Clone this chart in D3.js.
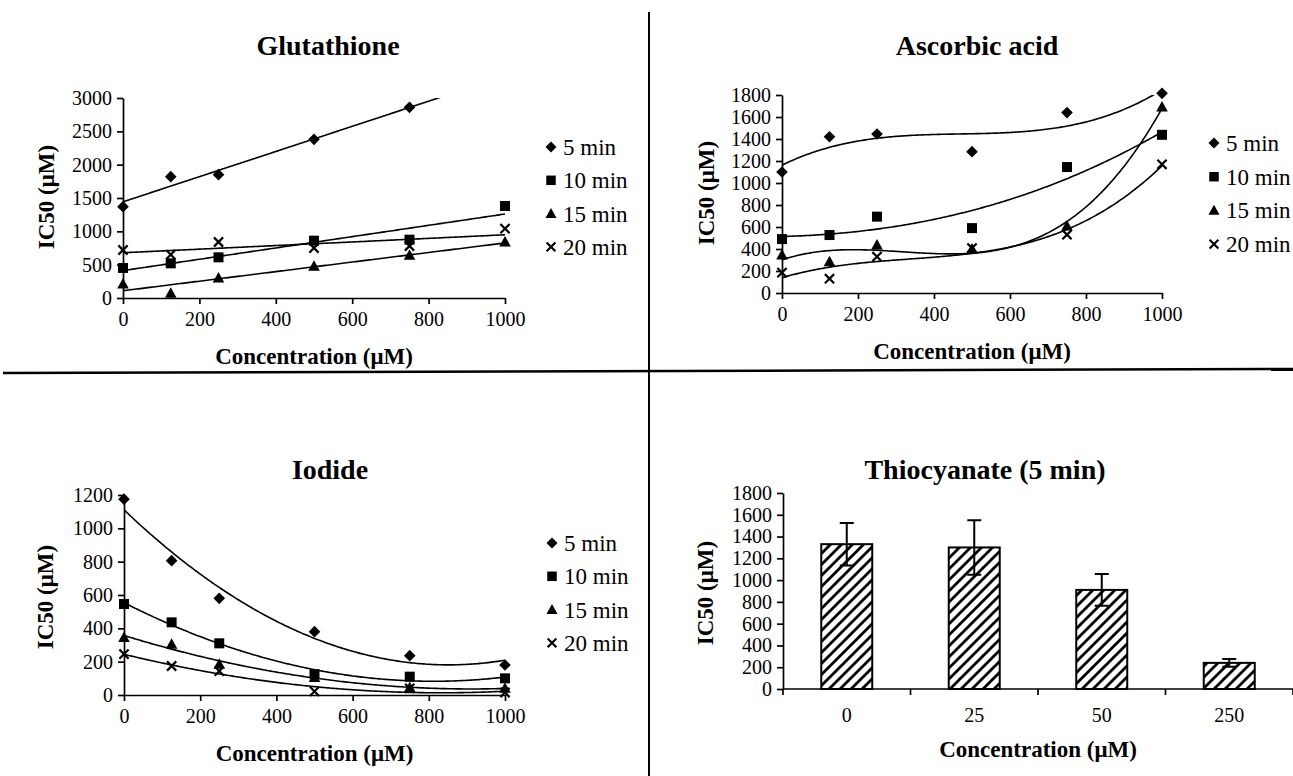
<!DOCTYPE html>
<html><head><meta charset="utf-8">
<script src="https://cdn.jsdelivr.net/npm/d3@7"></script>
<style>
html,body{margin:0;padding:0;background:#fff;}
svg{display:block;}
text{font-family:"Liberation Serif","Times New Roman",serif;fill:#000;}
</style></head><body>
<svg id="chart" width="1293" height="776"></svg>
<script>
// ---------- DATA ----------
const concentrations = [0, 125, 250, 500, 750, 1000];
const seriesNames = ["5 min", "10 min", "15 min", "20 min"];
const xTicks = [0, 200, 400, 600, 800, 1000];

const glutathione5  = [1370, 1820, 1850, 2380, 2860, null];
const glutathione10 = [450, 520, 610, 860, 875, 1380];
const glutathione15 = [210, 70, 300, 475, 640, 840];
const glutathione20 = [720, 650, 840, 750, 780, 1040];
const glutathioneYTicks = [0, 500, 1000, 1500, 2000, 2500, 3000];

const ascorbic5  = [1100, 1420, 1445, 1285, 1640, 1815];
const ascorbic10 = [490, 527, 694, 590, 1145, 1438];
const ascorbic15 = [345, 285, 436, 400, 610, 1690];
const ascorbic20 = [185, 130, 330, 409, 530, 1170];
const ascorbicYTicks = [0, 200, 400, 600, 800, 1000, 1200, 1400, 1600, 1800];

const iodide5  = [1175, 806, 580, 380, 236, 180];
const iodide10 = [546, 436, 310, 125, 110, 100];
const iodide15 = [345, 305, 185, 105, 45, 40];
const iodide20 = [245, 174, 143, 22, 40, 15];
const iodideYTicks = [0, 200, 400, 600, 800, 1000, 1200];

const thiocyanateCategories = ["0", "25", "50", "250"];
const thiocyanateMeans  = [1330, 1300, 910, 240];
const thiocyanateErrors = [195, 250, 146, 35];
const thiocyanateYTicks = [0, 200, 400, 600, 800, 1000, 1200, 1400, 1600, 1800];

const titles = ["Glutathione", "Ascorbic acid", "Iodide", "Thiocyanate (5 min)"];
const xAxisTitle = "Concentration (\u03BCM)";
const yAxisTitle = "IC50 (\u03BCM)";

// ---------- HELPERS ----------
const svg = d3.select("#chart");
const FONT = '"Liberation Serif","Times New Roman",serif';

function polyfit(xs, ys, deg) {
  const pts = xs.map((x, i) => [x / 1000, ys[i]]).filter(p => p[1] != null);
  const n = deg + 1;
  const A = Array.from({length: n}, () => new Array(n + 1).fill(0));
  for (const [x, y] of pts) {
    for (let r = 0; r < n; r++) {
      for (let c = 0; c < n; c++) A[r][c] += Math.pow(x, r + c);
      A[r][n] += y * Math.pow(x, r);
    }
  }
  for (let i = 0; i < n; i++) {
    let p = i;
    for (let k = i + 1; k < n; k++) if (Math.abs(A[k][i]) > Math.abs(A[p][i])) p = k;
    [A[i], A[p]] = [A[p], A[i]];
    for (let k = i + 1; k < n; k++) {
      const f = A[k][i] / A[i][i];
      for (let c = i; c <= n; c++) A[k][c] -= f * A[i][c];
    }
  }
  const coef = new Array(n).fill(0);
  for (let i = n - 1; i >= 0; i--) {
    let s = A[i][n];
    for (let c = i + 1; c < n; c++) s -= A[i][c] * coef[c];
    coef[i] = s / A[i][i];
  }
  return x => coef.reduce((s, c, i) => s + c * Math.pow(x / 1000, i), 0);
}

function drawMarker(g, type, cx, cy, s) {
  const k = s || 1;
  if (type === 0) {
    const r = 5.8 * k;
    g.append("path").attr("d", `M${cx},${cy - r}L${cx + r},${cy}L${cx},${cy + r}L${cx - r},${cy}Z`).attr("fill", "#000");
  } else if (type === 1) {
    const h = 5 * k;
    g.append("rect").attr("x", cx - h).attr("y", cy - h).attr("width", 2 * h).attr("height", 2 * h).attr("fill", "#000");
  } else if (type === 2) {
    const w = 5.8 * k;
    g.append("path").attr("d", `M${cx},${cy - 6 * k}L${cx + w},${cy + 4.5 * k}L${cx - w},${cy + 4.5 * k}Z`).attr("fill", "#000");
  } else {
    const h = 4.6 * k;
    g.append("path").attr("d", `M${cx - h},${cy - h}L${cx + h},${cy + h}M${cx - h},${cy + h}L${cx + h},${cy - h}`)
      .attr("stroke", "#000").attr("stroke-width", 2.2).attr("fill", "none");
  }
}

function styleAxis(g, fontSize) {
  g.select(".domain").attr("stroke", "#000").attr("stroke-width", 1.7);
  g.selectAll(".tick line").attr("stroke", "#000").attr("stroke-width", 1.7);
  g.selectAll(".tick text").attr("font-family", FONT).attr("font-size", fontSize).attr("fill", "#000");
}

function addText(x, y, txt, size, bold, anchor, rotate) {
  const t = svg.append("text")
    .attr("text-anchor", anchor || "middle")
    .attr("dy", "0.35em")
    .attr("font-size", size)
    .attr("font-weight", bold ? "bold" : "normal")
    .text(txt);
  if (rotate) t.attr("transform", `translate(${x},${y}) rotate(-90)`);
  else t.attr("x", x).attr("y", y);
  return t;
}

let clipId = 0;
function scatterPanel(cfg) {
  const x = d3.scaleLinear().domain([0, 1000]).range([cfg.x0, cfg.x1]);
  const y = d3.scaleLinear().domain([0, cfg.yMax]).range([cfg.yBottom, cfg.yTop]);

  const id = "clip" + (clipId++);
  svg.append("clipPath").attr("id", id).append("rect")
    .attr("x", cfg.x0).attr("y", cfg.yTop).attr("width", cfg.x1 - cfg.x0 + 2).attr("height", cfg.yBottom - cfg.yTop);

  const gx = svg.append("g").attr("transform", `translate(0,${cfg.yBottom})`)
    .call(d3.axisBottom(x).tickValues(xTicks).tickSize(6).tickSizeOuter(0).tickPadding(8).tickFormat(d3.format("d")));
  styleAxis(gx, 20);
  const gy = svg.append("g").attr("transform", `translate(${cfg.x0},0)`)
    .call(d3.axisLeft(y).tickValues(cfg.yTicks).tickSize(6).tickSizeOuter(0).tickPadding(5).tickFormat(d3.format("d")));
  styleAxis(gy, 20);

  const lines = svg.append("g").attr("clip-path", `url(#${id})`);
  const marks = svg.append("g");
  cfg.series.forEach((vals, si) => {
    const f = polyfit(concentrations, vals, cfg.degree);
    const samples = d3.range(0, 1000.1, 5);
    lines.append("path")
      .attr("d", d3.line().x(d => x(d)).y(d => y(f(d)))(samples))
      .attr("fill", "none").attr("stroke", "#000").attr("stroke-width", 1.6);
    vals.forEach((v, i) => {
      if (v == null) return;
      drawMarker(marks, si, x(concentrations[i]), y(v));
    });
  });

  // legend
  seriesNames.forEach((nm, i) => {
    const ly = cfg.legY + i * cfg.legStep;
    drawMarker(svg, i, cfg.legX, ly, 0.95);
    addText(cfg.legX + 12, ly, nm, 23, false, "start");
  });

  addText(cfg.titleX, cfg.titleY, cfg.title, 28, true);
  addText((cfg.x0 + cfg.x1) / 2, cfg.yBottom + 58, xAxisTitle, 23, true);
  addText(cfg.yLabX, cfg.yLabY, yAxisTitle, 23, true, "middle", true);
}

// ---------- PANELS ----------
scatterPanel({
  title: titles[0], titleX: 328, titleY: 45,
  x0: 123, x1: 505, yTop: 98, yBottom: 298, yMax: 3000, yTicks: glutathioneYTicks,
  series: [glutathione5, glutathione10, glutathione15, glutathione20], degree: 1,
  legX: 551, legY: 147, legStep: 33.3, yLabX: 46, yLabY: 197
});

scatterPanel({
  title: titles[1], titleX: 977, titleY: 45,
  x0: 782, x1: 1162, yTop: 95, yBottom: 293, yMax: 1800, yTicks: ascorbicYTicks,
  series: [ascorbic5, ascorbic10, ascorbic15, ascorbic20], degree: 3,
  legX: 1214, legY: 143, legStep: 33.7, yLabX: 706, yLabY: 193
});

scatterPanel({
  title: titles[2], titleX: 330, titleY: 469,
  x0: 124, x1: 505, yTop: 495, yBottom: 695, yMax: 1200, yTicks: iodideYTicks,
  series: [iodide5, iodide10, iodide15, iodide20], degree: 2,
  legX: 552, legY: 543, legStep: 33.3, yLabX: 45, yLabY: 597
});

// Thiocyanate bar chart
(function () {
  const x0 = 783, x1 = 1293, yTop = 493, yBottom = 689;
  const x = d3.scaleBand().domain(thiocyanateCategories).range([x0, x1]).paddingInner(0.6).paddingOuter(0.3);
  const y = d3.scaleLinear().domain([0, 1800]).range([yBottom, yTop]);

  const defs = svg.append("defs");
  const pat = defs.append("pattern").attr("id", "hatch").attr("patternUnits", "userSpaceOnUse")
    .attr("width", 11).attr("height", 11);
  pat.append("rect").attr("width", 11).attr("height", 11).attr("fill", "#fff");
  pat.append("path").attr("d", "M-2,2L2,-2M0,11L11,0M9,13L13,9")
    .attr("stroke", "#000").attr("stroke-width", 2.8);

  const bars = svg.append("g");
  thiocyanateCategories.forEach((c, i) => {
    bars.append("rect")
      .attr("x", x(c)).attr("y", y(thiocyanateMeans[i]))
      .attr("width", x.bandwidth()).attr("height", y(0) - y(thiocyanateMeans[i]))
      .attr("fill", "url(#hatch)").attr("stroke", "#000").attr("stroke-width", 2);
  });
  thiocyanateCategories.forEach((c, i) => {
    const cx = x(c) + x.bandwidth() / 2;
    const hi = y(thiocyanateMeans[i] + thiocyanateErrors[i]);
    const lo = y(thiocyanateMeans[i] - thiocyanateErrors[i]);
    bars.append("path")
      .attr("d", `M${cx},${hi}L${cx},${lo}M${cx - 7},${hi}L${cx + 7},${hi}M${cx - 7},${lo}L${cx + 7},${lo}`)
      .attr("stroke", "#000").attr("stroke-width", 2).attr("fill", "none");
  });

  // x axis line & category boundary ticks
  const step = x.step();
  const boundaries = d3.range(0, thiocyanateCategories.length + 1).map(k => x0 + k * step);
  const gx = svg.append("g");
  gx.append("line").attr("x1", x0).attr("x2", x1).attr("y1", yBottom).attr("y2", yBottom)
    .attr("stroke", "#000").attr("stroke-width", 1.7);
  boundaries.forEach(b => {
    gx.append("line").attr("x1", b).attr("x2", b).attr("y1", yBottom).attr("y2", yBottom + 6)
      .attr("stroke", "#000").attr("stroke-width", 1.7);
  });
  thiocyanateCategories.forEach(c => {
    addText(x(c) + x.bandwidth() / 2, 715, c, 20, false);
  });

  const gy = svg.append("g").attr("transform", `translate(${x0},0)`)
    .call(d3.axisLeft(y).tickValues(thiocyanateYTicks).tickSize(6).tickSizeOuter(0).tickPadding(5).tickFormat(d3.format("d")));
  styleAxis(gy, 20);

  addText(985, 469, titles[3], 28, true);
  addText((x0 + x1) / 2, 749, xAxisTitle, 23, true);
  addText(705, 593, yAxisTitle, 23, true, "middle", true);
})();

// ---------- DIVIDERS ----------
svg.append("line").attr("x1", 649).attr("x2", 649).attr("y1", 12).attr("y2", 776)
  .attr("stroke", "#000").attr("stroke-width", 2);
svg.append("line").attr("x1", 3).attr("x2", 1293).attr("y1", 373).attr("y2", 369)
  .attr("stroke", "#000").attr("stroke-width", 2.5);
</script>
</body></html>
